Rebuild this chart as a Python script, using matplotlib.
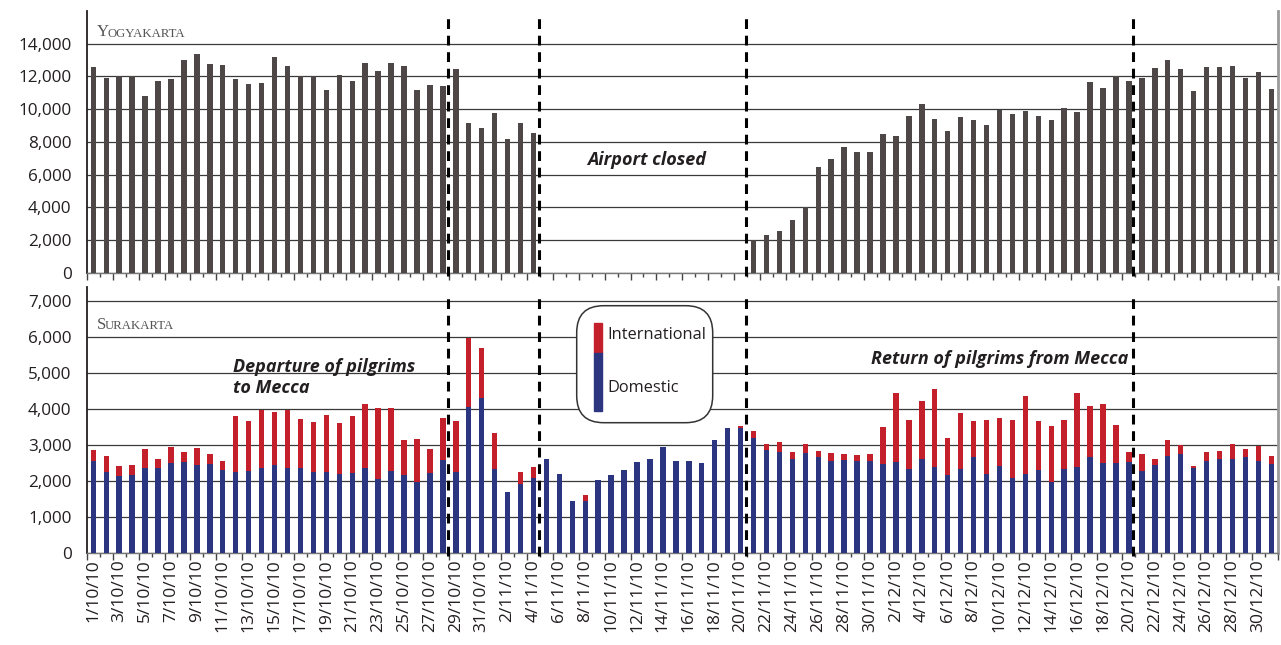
import numpy as np
import pandas as pd
import matplotlib
matplotlib.use("Agg")
import matplotlib.pyplot as plt
from matplotlib.patches import FancyBboxPatch, Rectangle

plt.rcParams['font.family'] = ['Open Sans', 'DejaVu Sans']

# 1 Oct 2010 .. 31 Dec 2010, one bar per day
dates = pd.date_range("2010-10-01", "2010-12-31", freq="D")
date_labels = [f"{d.day}/{d.month}/10" for d in dates]

# Yogyakarta passengers (airport closed 5/11 - 21/11)
yogyakarta = [
    12600, 11900, 12000, 12000, 10800, 11720, 11840, 13000, 13370, 12760,
    12700, 11840, 11540, 11600, 13190, 12630, 12000, 12000, 11170, 12090,
    11720, 12840, 12330, 12840, 12630, 11170, 11470, 11410, 12450, 9130,
    8850, 9740, 8170, 9130, 8520, 0, 0, 0, 0, 0,
    0, 0, 0, 0, 0, 0, 0, 0, 0, 0,
    0, 2000, 2280, 2550, 3220, 3990, 6460, 6930, 7680, 7380,
    7380, 8460, 8360, 9580, 10290, 9400, 8660, 9520, 9330, 9030,
    9950, 9700, 9880, 9580, 9330, 10050, 9820, 11660, 11290, 12000,
    11720, 11900, 12510, 13000, 12450, 11110, 12570, 12570, 12630, 11900,
    12270, 11230,
]

# Surakarta passengers
domestic = [
    2550, 2250, 2140, 2160, 2370, 2360, 2490, 2520, 2440, 2470,
    2300, 2240, 2270, 2360, 2440, 2360, 2360, 2240, 2250, 2200,
    2210, 2360, 2050, 2270, 2160, 1970, 2210, 2570, 2250, 4060,
    4310, 2320, 1700, 1920, 2080, 2600, 2190, 1440, 1440, 2020,
    2160, 2300, 2520, 2600, 2950, 2550, 2550, 2490, 3130, 3460,
    3460, 3190, 2850, 2800, 2600, 2770, 2660, 2550, 2570, 2550,
    2550, 2460, 2520, 2320, 2600, 2380, 2160, 2320, 2660, 2190,
    2410, 2070, 2190, 2300, 1970, 2320, 2380, 2660, 2490, 2490,
    2520, 2270, 2440, 2690, 2740, 2350, 2550, 2600, 2600, 2660,
    2550, 2460,
]
international = [
    300, 440, 270, 280, 510, 240, 460, 280, 470, 270,
    250, 1560, 1390, 1620, 1470, 1620, 1350, 1390, 1570, 1400,
    1590, 1770, 1980, 1760, 970, 1190, 670, 1180, 1410, 1920,
    1380, 1000, 0, 320, 300, 0, 0, 0, 160, 0,
    0, 0, 0, 0, 0, 0, 0, 0, 0, 0,
    60, 190, 170, 270, 200, 250, 160, 220, 170, 160,
    190, 1030, 1920, 1370, 1610, 2170, 1030, 1560, 1000, 1500,
    1330, 1620, 2160, 1360, 1550, 1370, 2060, 1410, 1640, 1060,
    280, 470, 160, 440, 250, 60, 250, 220, 420, 220,
    410, 230,
]

# event markers (day index, between bars)
events = [27.4, 34.4, 50.4, 80.35]

c_gray = '#4d4747'
c_dom = '#2c3580'
c_int = '#c4202b'
c_text = '#231f20'

x = np.arange(len(dates))
barw = 0.42

fig = plt.figure(figsize=(12.81, 6.45), dpi=100)
ax1 = fig.add_axes([0.0678, 0.5772, 0.9297, 0.4057])
ax2 = fig.add_axes([0.0678, 0.1431, 0.9297, 0.4124])

ax1.bar(x, yogyakarta, width=barw, color=c_gray, zorder=3)
ax2.bar(x, domestic, width=barw, color=c_dom, zorder=3)
ax2.bar(x, international, width=barw, bottom=domestic, color=c_int, zorder=3)

ax1.set_ylim(0, 16000)
ax1.set_yticks(np.arange(0, 14001, 2000))
ax2.set_ylim(0, 7400)
ax2.set_yticks(np.arange(0, 7001, 1000))

for ax in (ax1, ax2):
    ax.set_xlim(-0.5, 91.5)
    ax.yaxis.set_major_formatter(matplotlib.ticker.StrMethodFormatter('{x:,.0f}'))
    ax.tick_params(axis='y', length=0, pad=11, labelsize=12.3, labelcolor=c_text)
    ax.grid(axis='y', color='#3a3a3a', linewidth=0.9, zorder=1)
    ax.set_axisbelow(True)
    ax.spines['top'].set_visible(False)
    ax.spines['left'].set_color('#231f20')
    ax.spines['left'].set_linewidth(1.3)
    ax.spines['bottom'].set_color('#777777')
    ax.spines['bottom'].set_linewidth(1.0)
    ax.spines['right'].set_color('#9a9a9a')
    ax.spines['right'].set_linewidth(2.0)
    # ticks at day boundaries: long every 2 days, short in between
    ax.set_xticks(np.arange(-0.5, 92, 2))
    ax.set_xticks(np.arange(0.5, 92, 2), minor=True)
    ax.tick_params(axis='x', which='major', length=5, color='#444444', width=1)
    ax.tick_params(axis='x', which='minor', length=3, color='#444444', width=1)
    for ev in events:
        ax.plot([ev, ev], [-0.012, 0.972], color='black', linewidth=2.2,
                dashes=(3.2, 2.2), transform=ax.get_xaxis_transform(),
                clip_on=False, zorder=4)

ax1.set_xticklabels([])
# date labels centered on every second bar
ax2.set_xticklabels([])
for i in range(0, len(dates), 2):
    ax2.text(i, -0.025, date_labels[i], transform=ax2.get_xaxis_transform(),
             rotation=90, ha='center', va='top', fontsize=12.5, color=c_text)


def small_caps(ax, xa, ya, word):
    t = ax.text(xa, ya, word[0], transform=ax.transAxes, fontsize=12,
                family='Liberation Serif', color='#555555', va='baseline')
    ax.annotate(word[1:].upper(), xy=(1, 0), xycoords=t, xytext=(-1.2, 2.6),
                textcoords='offset points', fontsize=9.2,
                family='Liberation Serif', color='#555555', va='baseline')


small_caps(ax1, 0.0084, 0.904, 'Yogyakarta')
small_caps(ax2, 0.0084, 0.841, 'Surakarta')

note_kw = dict(fontsize=13, fontweight='bold', fontstyle='italic', color=c_text)
ax1.text(42.75, 6890, 'Airport closed', ha='center', va='center', **note_kw)
ax2.text(10.8, 4870, 'Departure of pilgrims\nto Mecca', ha='left', va='center',
         linespacing=1.25, **note_kw)
ax2.text(60.05, 5380, 'Return of pilgrims from Mecca', ha='left', va='center', **note_kw)

# legend box (inch coordinates)
tr = fig.dpi_scale_trans
box = FancyBboxPatch((5.767, 2.223), 1.36, 1.17, boxstyle='round,pad=0,rounding_size=0.27',
                     transform=tr, facecolor='white', edgecolor='#333333', linewidth=1.1,
                     zorder=10)
fig.patches.append(box)
fig.patches.append(Rectangle((5.94, 2.923), 0.08, 0.30, transform=tr, color=c_int, zorder=11))
fig.patches.append(Rectangle((5.94, 2.343), 0.08, 0.58, transform=tr, color=c_dom, zorder=11))
fig.text(6.07, 3.10, 'International', transform=tr, va='center', ha='left',
         fontsize=11.8, color=c_text, zorder=12)
fig.text(6.07, 2.57, 'Domestic', transform=tr, va='center', ha='left',
         fontsize=11.8, color=c_text, zorder=12)

fig.savefig('out.png', dpi=100)
